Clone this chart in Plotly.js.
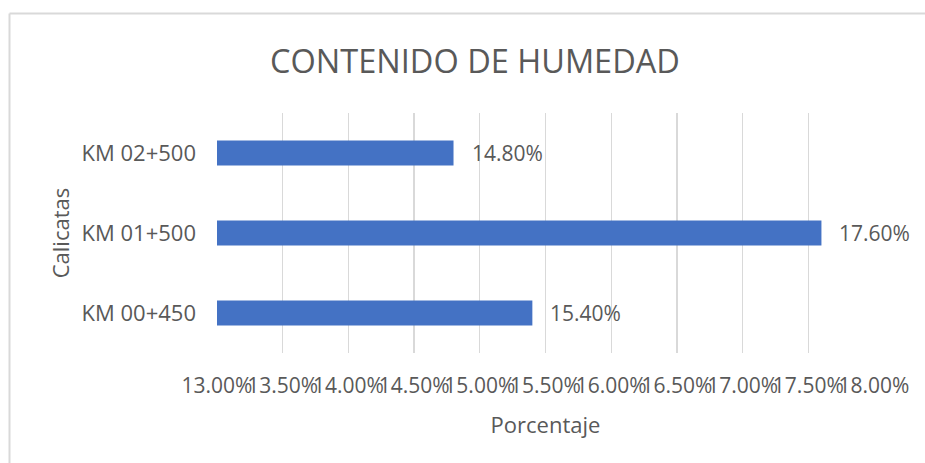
<!DOCTYPE html>
<html>
<head>
<meta charset="utf-8">
<script src="https://cdn.plot.ly/plotly-3.0.1.min.js"></script>
<style>html,body{margin:0;padding:0;background:#fff;}#chart{width:925px;height:463px;}</style>
</head>
<body>
<div id="chart"></div>
<script>
const categories = ['KM 00+450', 'KM 01+500', 'KM 02+500'];
const humedad = [15.4, 17.6, 14.8];
const xTicks = [13, 13.5, 14, 14.5, 15, 15.5, 16, 16.5, 17, 17.5, 18];

const L = 217, R = 51, T = 113, B = 110;
const W = 925 - L - R, H = 463 - T - B;
const px = x => (x - L) / W;
const py = y => (463 - B - y) / H;

const font = 'Open Sans, sans-serif';
const grey = '#595959';

const trace = {
  type: 'bar',
  orientation: 'h',
  y: categories,
  x: humedad,
  marker: {color: '#4472C4'},
  textposition: 'none',
  cliponaxis: false,
  hoverinfo: 'none'
};

const labels = categories.map((c, i) => ({
  x: humedad[i], y: c, xref: 'x', yref: 'y',
  text: humedad[i].toFixed(2) + '%',
  showarrow: false, xanchor: 'left', yanchor: 'middle', xshift: 16,
  font: {family: font, size: 21, color: grey}
}));

const layout = {
  width: 925, height: 463,
  margin: {l: L, r: R, t: T, b: B},
  paper_bgcolor: '#fff', plot_bgcolor: '#fff',
  showlegend: false,
  bargap: 0.69,
  font: {family: font, color: grey},
  title: {
    text: 'CONTENIDO DE HUMEDAD',
    font: {family: font, size: 32.5, color: grey},
    x: 475 / 925, xref: 'container', xanchor: 'center',
    y: 1 - 62 / 463, yref: 'container', yanchor: 'middle'
  },
  xaxis: {
    range: [13, 18],
    tickvals: xTicks,
    ticktext: xTicks.map(v => v.toFixed(2) + '%'),
    tickangle: 0,
    showgrid: true, gridcolor: '#d9d9d9', gridwidth: 1.3,
    zeroline: false, showline: false, ticks: '',
    ticklabelstandoff: 18,
    tickfont: {family: font, size: 21, color: grey},
    title: {text: 'Porcentaje', font: {family: font, size: 22, color: grey}, standoff: 19}
  },
  yaxis: {
    type: 'category',
    showgrid: false, zeroline: false, showline: false, ticks: '',
    ticklabelstandoff: 20,
    tickfont: {family: font, size: 22, color: grey},
    title: {text: 'Calicatas', font: {family: font, size: 22, color: grey}, standoff: 5}
  },
  annotations: labels,
  shapes: [
    {type: 'line', xref: 'paper', yref: 'paper', x0: px(9.5), x1: px(925), y0: py(13.5), y1: py(13.5),
     line: {color: '#d9d9d9', width: 2}},
    {type: 'line', xref: 'paper', yref: 'paper', x0: px(9.5), x1: px(9.5), y0: py(13.5), y1: py(463),
     line: {color: '#d9d9d9', width: 2}}
  ]
};

Plotly.newPlot('chart', [trace], layout, {staticPlot: true, displayModeBar: false});
</script>
</body>
</html>
